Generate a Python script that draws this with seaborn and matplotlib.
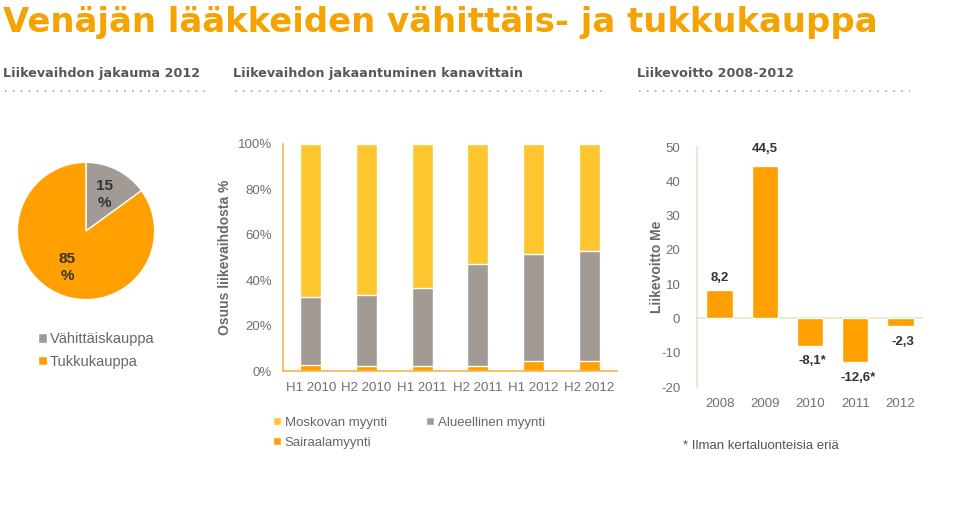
import matplotlib
matplotlib.use("Agg")
import matplotlib.pyplot as plt
import seaborn as sns
import pandas as pd
from matplotlib.patches import Patch
from matplotlib.lines import Line2D

# ---------------- data ----------------
pie_labels = ["Vähittäiskauppa", "Tukkukauppa"]
pie_values = [15, 85]

periods = ["H1 2010", "H2 2010", "H1 2011", "H2 2011", "H1 2012", "H2 2012"]
moskova = [67.6, 66.3, 63.5, 52.9, 48.5, 47.0]
alueellinen = [29.6, 31.5, 34.1, 44.9, 47.1, 48.7]
sairaala = [2.8, 2.2, 2.4, 2.2, 4.4, 4.3]

years = ["2008", "2009", "2010", "2011", "2012"]
profit = [8.2, 44.5, -8.1, -12.6, -2.3]
profit_labels = ["8,2", "44,5", "-8,1*", "-12,6*", "-2,3"]

# ---------------- style ----------------
sns.set_theme(style="white")
plt.rcParams["font.family"] = ["Liberation Sans", "DejaVu Sans"]
plt.rcParams["axes.unicode_minus"] = False

ORANGE = "#FFA000"
YELLOW = "#FDC62F"
GRAY = "#A29A94"
TXT = "#707070"
DARK = "#333333"
SPINE_L = "#F3B64A"
SPINE_R = "#EDE3C8"

W, H = 960, 532
fig = plt.figure(figsize=(9.6, 5.32), dpi=100)


def rect(x0, y0, x1, y1):
    return [x0 / W, 1 - y1 / H, (x1 - x0) / W, (y1 - y0) / H]


def fx(x):
    return x / W


def fy(y):
    return 1 - y / H


# ---------------- title & headers ----------------
fig.text(fx(3), fy(32), "Venäjän lääkkeiden vähittäis- ja tukkukauppa",
         color="#F5A300", fontsize=24.4, fontweight="bold", ha="left", va="baseline",
         family=["DejaVu Sans"])

headers = [(3, 205, "Liikevaihdon jakauma 2012"),
           (233, 607, "Liikevaihdon jakaantuminen kanavittain"),
           (637, 910, "Liikevoitto 2008-2012")]
for x0, x1, t in headers:
    fig.text(fx(x0), fy(73), t, color="#5A5656", fontsize=9.2, fontweight="bold",
             ha="left", va="center", family=["DejaVu Sans"])
    fig.add_artist(Line2D([fx(x0 + 2), fx(x1)], [fy(91), fy(91)], color="#9A9A9A",
                          lw=1.1, linestyle=(0, (1, 4.2))))

# ---------------- pie ----------------
axp = fig.add_axes(rect(16, 161, 156, 301))
axp.pie(pie_values, colors=[GRAY, ORANGE], startangle=90, counterclock=False,
        autopct=lambda p: f"{p:.0f}\n%", pctdistance=0.6,
        wedgeprops=dict(linewidth=1, edgecolor="white"),
        textprops=dict(color=DARK, fontsize=11, fontweight="bold", linespacing=1.3))
axp.set_xlim(-1.02, 1.02)
axp.set_ylim(-1.02, 1.02)
axp.set_aspect("equal")
axp.axis("off")

fig.legend(handles=[Patch(facecolor=GRAY), Patch(facecolor=ORANGE)], labels=pie_labels,
           loc="upper left", bbox_to_anchor=(fx(25), fy(319)), frameon=False,
           handlelength=0.6, handleheight=0.6, handletextpad=0.2, labelspacing=0.6,
           prop=dict(size=10.5), labelcolor="#666666")

# ---------------- stacked bars ----------------
axb = fig.add_axes(rect(283, 144, 617, 371))
df = pd.DataFrame({"period": periods, "moskova": moskova,
                   "alueellinen": alueellinen, "sairaala": sairaala})
df["top"] = df["moskova"] + df["alueellinen"] + df["sairaala"]
df["mid"] = df["alueellinen"] + df["sairaala"]
sns.barplot(data=df, x="period", y="top", color=YELLOW, width=0.38, saturation=1, ax=axb)
sns.barplot(data=df, x="period", y="mid", color=GRAY, width=0.38, saturation=1, ax=axb)
sns.barplot(data=df, x="period", y="sairaala", color=ORANGE, width=0.38, saturation=1, ax=axb)
axb.set_xlim(-0.5, 5.5)
axb.set_ylim(0, 100)
axb.set_yticks([0, 20, 40, 60, 80, 100])
axb.set_yticklabels([f"{v}%" for v in [0, 20, 40, 60, 80, 100]])
axb.set_xlabel("")
axb.set_ylabel("Osuus liikevaihdosta %", color="#6A6A6A", fontsize=10,
               fontweight="bold", labelpad=4)
axb.tick_params(axis="both", length=0, colors=TXT, labelsize=9.5)
axb.tick_params(axis="y", pad=8)
axb.tick_params(axis="x", pad=8)
for s in ["top", "right"]:
    axb.spines[s].set_visible(False)
for s in ["left", "bottom"]:
    axb.spines[s].set_color(SPINE_L)
    axb.spines[s].set_linewidth(1.2)

fig.legend(handles=[Patch(facecolor=YELLOW), Patch(facecolor=ORANGE), Patch(facecolor=GRAY)],
           labels=["Moskovan myynti", "Sairaalamyynti", "Alueellinen myynti"],
           ncol=2, loc="upper left", bbox_to_anchor=(fx(261), fy(405)), frameon=False,
           handlelength=0.6, handleheight=0.6, handletextpad=0.3, labelspacing=0.6,
           columnspacing=3.0, prop=dict(size=9.5), labelcolor="#666666")

# ---------------- profit bars ----------------
axr = fig.add_axes(rect(697, 147, 923, 387))
dfp = pd.DataFrame({"year": years, "profit": profit})
sns.barplot(data=dfp, x="year", y="profit", color=ORANGE, width=0.58, saturation=1, ax=axr)
axr.set_xlim(-0.5, 4.5)
axr.set_ylim(-20, 50)
axr.set_yticks(range(-20, 51, 10))
axr.axhline(0, color=SPINE_R, lw=1.2, zorder=0)
axr.set_xlabel("")
axr.set_ylabel("Liikevoitto Me", color="#6A6A6A", fontsize=10, fontweight="bold", labelpad=-2)
axr.tick_params(axis="both", length=0, colors=TXT, labelsize=9.5)
axr.tick_params(axis="y", pad=12)
axr.tick_params(axis="x", pad=8)
for s in ["top", "right", "bottom"]:
    axr.spines[s].set_visible(False)
axr.spines["left"].set_color(SPINE_R)
axr.spines["left"].set_linewidth(1.2)

offsets = [9, 12, -11, -12, -11]
for i, (v, lab, off) in enumerate(zip(profit, profit_labels, offsets)):
    axr.annotate(lab, (i, v), xytext=(2 if v < 0 else 0, off), textcoords="offset points",
                 ha="center", va="center", fontsize=9.5, fontweight="bold", color=DARK)

fig.text(fx(683), fy(446), "* Ilman kertaluonteisia eriä", color="#555555",
         fontsize=9.5, ha="left", va="center")

fig.savefig("out.png", dpi=100, facecolor="white")
